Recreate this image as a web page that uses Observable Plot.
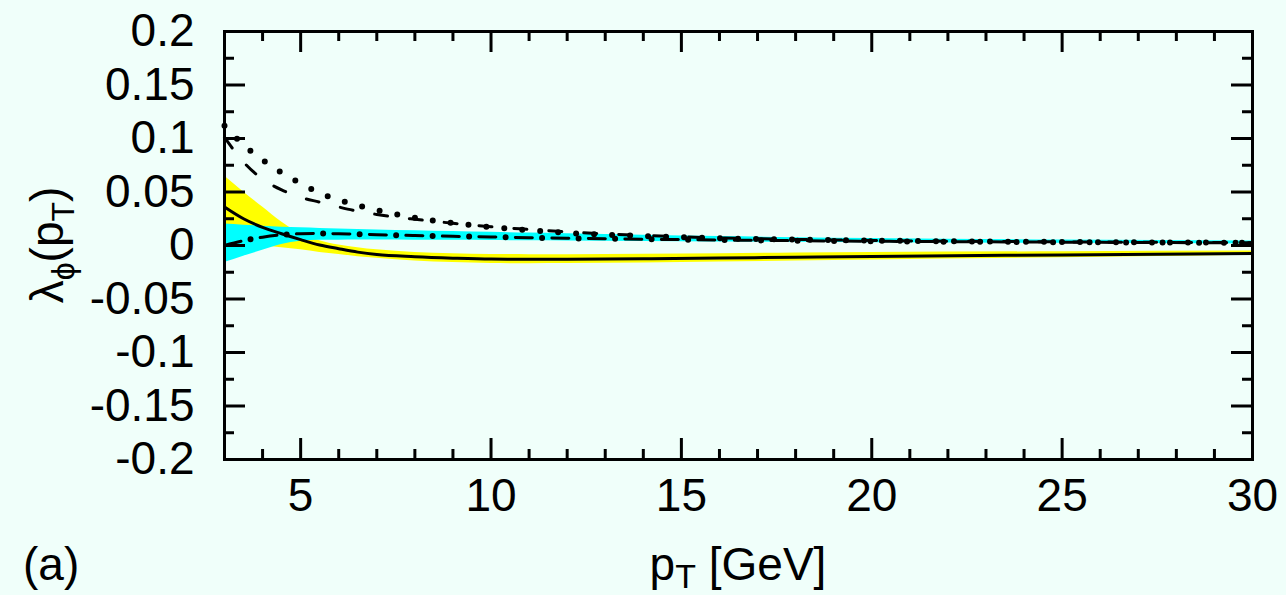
<!DOCTYPE html>
<html><head><meta charset="utf-8">
<script src="https://cdn.jsdelivr.net/npm/d3@7"></script>
<script src="https://cdn.jsdelivr.net/npm/@observablehq/plot@0.6"></script>
<style>
html,body{margin:0;padding:0;background:#f0fffa;overflow:hidden}
</style></head><body><div id="chart"></div>
<script>
// ---- data ----
const pT        = [3, 3.5, 4, 4.5, 5, 5.5, 6, 6.5, 7, 8, 9, 10, 11, 12, 14, 16, 18, 20, 25, 30];
const solid     = [0.036, 0.025, 0.017, 0.011, 0.0055, 0.0005, -0.003, -0.0062, -0.0085, -0.0105, -0.0118, -0.0127, -0.0129, -0.0128, -0.0124, -0.0117, -0.0110, -0.0102, -0.0088, -0.0075];
const yellowHi  = [0.065, 0.050, 0.036, 0.022, 0.011, 0.0045, 0.0005, -0.002, -0.004, -0.0065, -0.0076, -0.0083, -0.0086, -0.0086, -0.0082, -0.0077, -0.0071, -0.0066, -0.0058, -0.0052];
const yellowLo  = [0.006, 0.003, 0.0, -0.002, -0.004, -0.0065, -0.0085, -0.0105, -0.012, -0.0145, -0.016, -0.0168, -0.017, -0.0169, -0.0164, -0.0155, -0.0146, -0.0135, -0.0114, -0.0092];
const dashDot   = [0.0, 0.0045, 0.0078, 0.0100, 0.0110, 0.0112, 0.0110, 0.0106, 0.0101, 0.0093, 0.0086, 0.0080, 0.0073, 0.0068, 0.0059, 0.0051, 0.0045, 0.0040, 0.0031, 0.0025];
const cyanHi    = [0.020, 0.019, 0.018, 0.017, 0.0165, 0.016, 0.0155, 0.015, 0.0145, 0.0138, 0.013, 0.0123, 0.0116, 0.011, 0.0095, 0.0083, 0.0073, 0.0065, 0.0052, 0.0042];
const cyanLo    = [-0.016, -0.010, -0.0045, 0.001, 0.004, 0.0048, 0.005, 0.0052, 0.0052, 0.005, 0.0048, 0.0046, 0.0044, 0.0042, 0.0038, 0.0033, 0.003, 0.0026, 0.002, 0.0015];
const dotted    = [0.112, 0.094, 0.080, 0.068, 0.058, 0.049, 0.0425, 0.0375, 0.033, 0.026, 0.021, 0.0172, 0.0142, 0.0118, 0.0088, 0.0068, 0.0055, 0.0046, 0.0033, 0.0026];
const dashed    = [0.101, 0.078, 0.062, 0.052, 0.045, 0.0405, 0.036, 0.032, 0.029, 0.0245, 0.0208, 0.0175, 0.015, 0.0127, 0.0094, 0.0071, 0.0057, 0.0047, 0.0034, 0.0026];

const xMajor = [5, 10, 15, 20, 25, 30];
const xMajorLabels = ["5", "10", "15", "20", "25", "30"];
const xMinor = [3, 4, 6, 7, 8, 9, 11, 12, 13, 14, 16, 17, 18, 19, 21, 22, 23, 24, 26, 27, 28, 29];
const yMajor = [-0.2, -0.15, -0.1, -0.05, 0, 0.05, 0.1, 0.15, 0.2];
const yMajorLabels = ["-0.2", "-0.15", "-0.1", "-0.05", "0", "0.05", "0.1", "0.15", "0.2"];
const yMinor = [-0.175, -0.125, -0.075, -0.025, 0.025, 0.075, 0.125, 0.175];

const rows = pT.map((x, i) => ({x, solid: solid[i], yHi: yellowHi[i], yLo: yellowLo[i],
  dd: dashDot[i], cHi: cyanHi[i], cLo: cyanLo[i], dot: dotted[i], dash: dashed[i]}));

// ---- layout ----
const W = 1286, H = 595, ML = 224, MR = 34, MT = 31, MB = 136;
const PW = W - ML - MR, PH = H - MT - MB;
const FONT = "'Liberation Sans', Arial, Helvetica, sans-serif";
const xFmt = new Map(xMajor.map((v, i) => [v, xMajorLabels[i]]));
const yFmt = new Map(yMajor.map((v, i) => [v, yMajorLabels[i]]));
const curve = "monotone-x";

const chart = Plot.plot({
  width: W, height: H,
  marginLeft: ML, marginRight: MR, marginTop: MT, marginBottom: MB,
  style: {background: "#f0fffa", fontFamily: FONT, color: "black"},
  x: {domain: [3, 30]},
  y: {domain: [-0.2, 0.2]},
  marks: [
    Plot.areaY(rows, {x: "x", y1: "yLo", y2: "yHi", fill: "#ffff00", curve}),
    Plot.areaY(rows, {x: "x", y1: "cLo", y2: "cHi", fill: "#00ffff", curve}),
    Plot.line(rows, {x: "x", y: "solid", stroke: "black", strokeWidth: 3, curve}),
    Plot.line(rows, {x: "x", y: "dash", stroke: "black", strokeWidth: 3, strokeDasharray: "13 22", curve}),
    Plot.line(rows, {x: "x", y: "dot", stroke: "black", strokeWidth: 6, strokeLinecap: "round", strokeDasharray: "0 18", curve}),
    Plot.line(rows, {x: "x", y: "dd", stroke: "black", strokeWidth: 3, strokeDasharray: "17 19.5", curve}),
    Plot.line(rows, {x: "x", y: "dd", stroke: "black", strokeWidth: 6, strokeLinecap: "round", strokeDasharray: "0 36.5", strokeDashoffset: 9.75, curve}),
    // inward ticks on all four sides
    Plot.tickX(xMajor, {x: d => d, insetTop: PH - 21, strokeWidth: 3}),
    Plot.tickX(xMajor, {x: d => d, insetBottom: PH - 21, strokeWidth: 3}),
    Plot.tickX(xMinor, {x: d => d, insetTop: PH - 10, strokeWidth: 3}),
    Plot.tickX(xMinor, {x: d => d, insetBottom: PH - 10, strokeWidth: 3}),
    Plot.tickY(yMajor, {y: d => d, insetRight: PW - 21, strokeWidth: 3}),
    Plot.tickY(yMajor, {y: d => d, insetLeft: PW - 21, strokeWidth: 3}),
    Plot.tickY(yMinor, {y: d => d, insetRight: PW - 10, strokeWidth: 3}),
    Plot.tickY(yMinor, {y: d => d, insetLeft: PW - 10, strokeWidth: 3}),
    Plot.frame({stroke: "black", strokeWidth: 3}),
    Plot.axisX({ticks: xMajor, tickSize: 0, tickPadding: 19, fontSize: 46, tickFormat: d => xFmt.get(d), label: null}),
    Plot.axisY({ticks: yMajor, tickSize: 0, tickPadding: 30, fontSize: 46, tickFormat: d => yFmt.get(d), label: null})
  ]
});
document.getElementById("chart").appendChild(chart);

// ---- axis titles with subscripts ----
const svg = d3.select(chart);
const yl = svg.append("text")
  .attr("transform", "translate(63,245) rotate(-90)")
  .attr("text-anchor", "middle").attr("font-size", 46).attr("font-family", FONT).attr("fill", "black");
yl.append("tspan").text("λ");
yl.append("tspan").attr("font-size", 32).attr("dy", 11).text("ϕ");
yl.append("tspan").attr("dy", -11).text("(p");
yl.append("tspan").attr("font-size", 32).attr("dy", 11).text("T");
yl.append("tspan").attr("dy", -11).text(")");

const xl = svg.append("text")
  .attr("x", (ML + W - MR) / 2).attr("y", 580)
  .attr("text-anchor", "middle").attr("font-size", 46).attr("font-family", FONT).attr("fill", "black");
xl.append("tspan").text("p");
xl.append("tspan").attr("font-size", 34).attr("dy", 8).text("T");
xl.append("tspan").attr("dy", -8).text(" [GeV]");

svg.append("text").attr("x", 23).attr("y", 580).attr("text-anchor", "start")
  .attr("font-size", 46).attr("font-family", FONT).attr("fill", "black").text("(a)");
</script></body></html>
